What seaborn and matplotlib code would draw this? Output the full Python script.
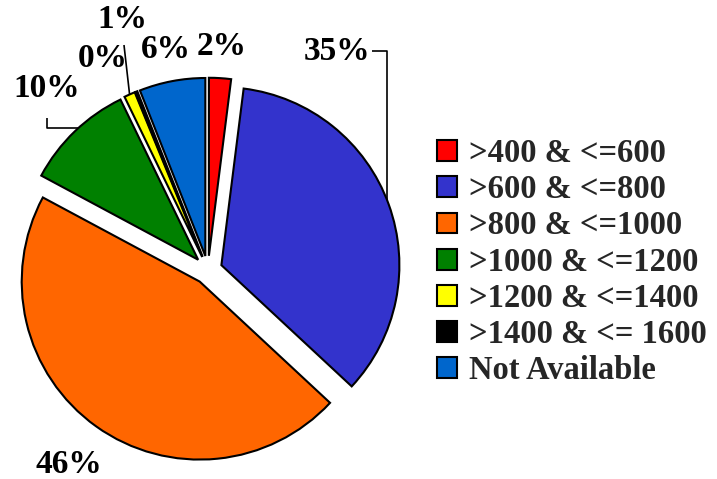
import matplotlib
matplotlib.use("Agg")
import matplotlib.pyplot as plt
import seaborn as sns
import numpy as np
from matplotlib.patches import Patch

categories = [">400 & <=600", ">600 & <=800", ">800 & <=1000", ">1000 & <=1200",
              ">1200 & <=1400", ">1400 & <= 1600", "Not Available"]
shares = [2.0, 35.0, 46.0, 10.0, 1.0, 0.2, 6.0]
pct_labels = ["2%", "35%", "46%", "10%", "1%", "0%", "6%"]
colors = ["#FF0000", "#3333CC", "#FF6600", "#008000", "#FFFF00", "#000000", "#0066CC"]

sns.set_theme(style="white")
plt.rcParams['font.family'] = ['Liberation Serif', 'DejaVu Serif']
plt.rcParams['font.weight'] = 'bold'

W, H, DPI = 717, 479, 100
fig = plt.figure(figsize=(W / DPI, H / DPI), dpi=DPI)
fig.patch.set_facecolor("white")
ax = fig.add_axes([0, 0, 1, 1])

R = 178.0           # pie radius in pixels
cx, cy = 208, 270   # pie centre in pixels (from top-left)
explode = [0.08] * len(shares)
wedges, _ = ax.pie(shares, colors=colors, startangle=90, counterclock=False,
                   explode=explode,
                   wedgeprops=dict(edgecolor="black", linewidth=1.5))
ax.set_xlim(-cx / R, (W - cx) / R)
ax.set_ylim(-(H - cy) / R, cy / R)
ax.set_aspect("equal")
ax.axis("off")

fs = 24
def mid_dir(w):
    a = np.deg2rad((w.theta1 + w.theta2) / 2)
    return np.cos(a), np.sin(a)

# radial labels
radial = {0: 1.26, 2: 1.34, 6: 1.26}
pos = {}
for i, r in radial.items():
    dx, dy = mid_dir(wedges[i])
    pos[i] = (dx * r, dy * r)
# labels placed with leader lines
pos[1] = (0.725, 1.225)
pos[3] = (-0.904, 1.017)
pos[4] = (-0.483, 1.41)
pos[5] = (-0.59, 1.19)

for i, lab in enumerate(pct_labels):
    ax.text(pos[i][0], pos[i][1], lab, ha="center", va="center",
            fontsize=fs, fontweight="bold", color="black")

lk = dict(color="black", linewidth=1.2, solid_capstyle="butt")
# leader for 35%
bcx, bcy = wedges[1].center
xv = 1.006
yv = bcy + np.sqrt(1 - (xv - bcx) ** 2)
ax.plot([0.921, xv, xv], [1.230, 1.230, yv], **lk)
# leader for 10%
gcx, gcy = wedges[3].center
yh = 0.798
xh = gcx - np.sqrt(1 - (yh - gcy) ** 2)
ax.plot([-0.904, -0.904, xh], [0.854, yh, yh], **lk)
# leader for 1%
ycx, ycy = wedges[4].center
dx, dy = mid_dir(wedges[4])
ax.plot([-0.472, ycx + dx], [1.264, ycy + dy], **lk)

handles = [Patch(facecolor=c, edgecolor="black", linewidth=1.5, label=l)
           for c, l in zip(colors, categories)]
fig.legend(handles=handles, loc="upper left",
           bbox_to_anchor=(437 / W, 1 - 138 / H), frameon=False,
           prop=dict(family=["Liberation Serif"], weight="bold", size=23.5),
           handlelength=0.6, handleheight=0.6, handletextpad=0.38,
           labelspacing=0.16, borderpad=0, borderaxespad=0)

fig.savefig("out.png", dpi=DPI, facecolor="white")
